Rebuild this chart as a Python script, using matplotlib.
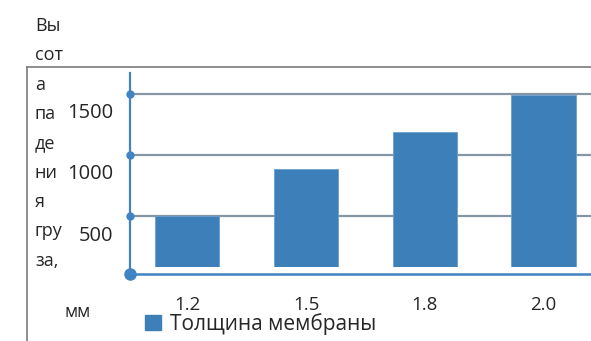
import matplotlib.pyplot as plt
from matplotlib.transforms import ScaledTranslation

plt.rcParams['font.family'] = ['Open Sans', 'DejaVu Sans']

# data
thickness = ['1.2', '1.5', '1.8', '2.0']
drop_height = [505, 886, 1187, 1489]
y_ticks = [500, 1000, 1500]
title_lines = ['Вы', 'сот', 'а', 'па', 'де', 'ни', 'я', 'гру', 'за,']
title_tail = 'мм'
series_name = 'Толщина мембраны'

bar_color = '#3d80b9'
axis_color = '#4184c2'
grid_color = '#8796a3'
frame_color = '#7a7a7a'

W, H = 591, 341
fig = plt.figure(figsize=(W / 100, H / 100), dpi=100)
fig.patch.set_facecolor('white')

# axes box in pixels: x 130..591, y 73..266.7 (top-down)
ax = fig.add_axes([130 / W, 1 - 266.7 / H, 461 / W, (266.7 - 73) / H])
ax.set_xlim(-0.484, 3.40)
ax.set_ylim(90, 1668)

x = range(len(thickness))
ax.bar(x, drop_height, width=0.54, color=bar_color, edgecolor='#6a9fcf', linewidth=0.6, zorder=3)

for v in y_ticks:
    ax.axhline(v, color=grid_color, lw=1.6, zorder=2)
ax.plot([0] * len(y_ticks), y_ticks, 'o', color=axis_color, ms=5, clip_on=False, zorder=5,
        transform=ax.get_yaxis_transform())

for s in ax.spines.values():
    s.set_visible(False)

# axis lines drawn by hand (bottom line sits a bit below the bars)
low = -7.6 / 193.7
ax.plot([0, 0], [low, 1], color=axis_color, lw=1.6, transform=ax.transAxes, clip_on=False, zorder=4)
ax.plot([0, 1], [low, low], color=axis_color, lw=1.8, transform=ax.transAxes, clip_on=False, zorder=4)
ax.plot([0], [low], 'o', color=axis_color, ms=8, transform=ax.transAxes, clip_on=False, zorder=5)

ax.set_xticks(list(x))
ax.set_xticklabels(thickness)
ax.set_yticks(y_ticks)
ax.set_yticklabels([str(v) for v in y_ticks])
ax.tick_params(axis='both', length=0, labelcolor='#262626')
ax.tick_params(axis='x', pad=21, labelsize=13.5)
ax.tick_params(axis='y', pad=12, labelsize=14.5)
shift = ScaledTranslation(0, -0.17, fig.dpi_scale_trans)
for lbl in ax.get_yticklabels():
    lbl.set_transform(lbl.get_transform() + shift)

# wrapped y axis title
for i, t in enumerate(title_lines):
    fig.text(35 / W, 1 - (30.7 + i * 29.4) / H, t, fontsize=13, color='#262626',
             ha='left', va='baseline')
fig.text(65 / W, 1 - 317 / H, title_tail, fontsize=13, color='#262626', ha='left', va='baseline')

# outer chart frame (top and left edge)
fig.add_artist(plt.Line2D([27 / W, 1], [1 - 66.7 / H, 1 - 66.7 / H], color=frame_color, lw=1.2))
fig.add_artist(plt.Line2D([27 / W, 27 / W], [1 - 66.7 / H, 0], color=frame_color, lw=1.2))

leg = fig.legend([plt.Rectangle((0, 0), 1, 1, color=bar_color)], [series_name],
                 loc='upper left', bbox_to_anchor=(145 / W, 1 - 313 / H), frameon=False,
                 fontsize=15, handlelength=0.78, handleheight=0.78, handletextpad=0.4,
                 borderpad=0, borderaxespad=0)
for t in leg.get_texts():
    t.set_color('#262626')

fig.savefig('out.png', dpi=100)
